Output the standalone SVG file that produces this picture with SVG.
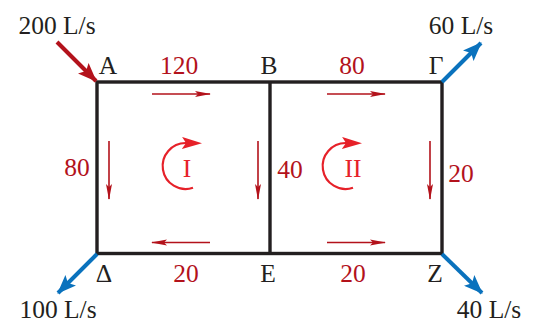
<svg xmlns="http://www.w3.org/2000/svg" width="535" height="323" viewBox="0 0 535 323">
<style>
.t{font-family:"Liberation Serif","Times New Roman",serif;font-size:25.5px;text-anchor:middle}
.k{fill:#231f20}
.r{fill:#b3121b}
.loopt{fill:#e62129}
.frame{fill:none;stroke:#231f20;stroke-width:3.4}
.flow{stroke:#b3121b;stroke-width:1.6;fill:none}
.loop{stroke:#e62129;stroke-width:2.2;fill:none}
.big{stroke-width:4;fill:none}
</style>
<defs>
<marker id="sm" markerUnits="userSpaceOnUse" viewBox="0 0 16 8" refX="15" refY="4" markerWidth="16" markerHeight="8" orient="auto">
<path d="M0,4 L3,4 L0,1 L16,4 L0,7 L3,4 Z" fill="#b3121b"/>
</marker>
<marker id="lp" markerUnits="userSpaceOnUse" viewBox="0 0 20 12" refX="4" refY="6" markerWidth="20" markerHeight="12" orient="auto">
<path d="M0,0 L20,6 L0,12 L4,6 Z" fill="#e62129"/>
</marker>
<marker id="br" markerUnits="userSpaceOnUse" viewBox="0 0 19 15" refX="18" refY="7.5" markerWidth="19" markerHeight="15" orient="auto">
<path d="M0,0 L19,7.5 L0,15 L4,7.5 Z" fill="#b3121b"/>
</marker>
<marker id="bb" markerUnits="userSpaceOnUse" viewBox="0 0 19 15" refX="18" refY="7.5" markerWidth="19" markerHeight="15" orient="auto">
<path d="M0,0 L19,7.5 L0,15 L4,7.5 Z" fill="#0a72bd"/>
</marker>
</defs>
<g id="network">
<rect class="frame" x="97" y="82" width="345" height="171.5"/>
<line class="frame" x1="270" y1="82" x2="270" y2="253.5"/>
</g>
<g id="connectors">
<line class="flow" x1="152" y1="94" x2="210" y2="94" marker-end="url(#sm)"/>
<line class="flow" x1="327" y1="94" x2="385" y2="94" marker-end="url(#sm)"/>
<line class="flow" x1="109" y1="141" x2="109" y2="199" marker-end="url(#sm)"/>
<line class="flow" x1="258" y1="141" x2="258" y2="199" marker-end="url(#sm)"/>
<line class="flow" x1="430" y1="141" x2="430" y2="199" marker-end="url(#sm)"/>
<line class="flow" x1="210" y1="242.5" x2="152" y2="242.5" marker-end="url(#sm)"/>
<line class="flow" x1="327" y1="242.5" x2="385" y2="242.5" marker-end="url(#sm)"/>
<line class="big" stroke="#b3121b" x1="57" y1="42" x2="96" y2="81" marker-end="url(#br)"/>
<line class="big" stroke="#0a72bd" x1="442" y1="82" x2="481" y2="43" marker-end="url(#bb)"/>
<line class="big" stroke="#0a72bd" x1="97" y1="254" x2="58" y2="293" marker-end="url(#bb)"/>
<line class="big" stroke="#0a72bd" x1="442" y1="254" x2="482" y2="293" marker-end="url(#bb)"/>
</g>
<g id="loop-I">
<path class="loop" d="M193,187.8 A23,23 0 1 1 186,143" marker-end="url(#lp)"/>
<text class="t loopt" x="187" y="177">I</text>
</g>
<g id="loop-II">
<path class="loop" d="M353,187.8 A23,23 0 1 1 346,143" marker-end="url(#lp)"/>
<text class="t loopt" x="353" y="177">II</text>
</g>
<g id="labels">
<text class="t k" x="57" y="34">200 L/s</text>
<text class="t k" x="461" y="34">60 L/s</text>
<text class="t k" x="58" y="318">100 L/s</text>
<text class="t k" x="489" y="318">40 L/s</text>
<text class="t k" x="108" y="74">A</text>
<text class="t k" x="269" y="74">B</text>
<text class="t k" x="436" y="74">Γ</text>
<text class="t k" x="104" y="282">Δ</text>
<text class="t k" x="268" y="282">E</text>
<text class="t k" x="435" y="282">Z</text>
<text class="t r" x="179" y="74">120</text>
<text class="t r" x="352" y="74">80</text>
<text class="t r" x="77" y="176">80</text>
<text class="t r" x="290" y="178">40</text>
<text class="t r" x="461" y="182">20</text>
<text class="t r" x="186" y="282">20</text>
<text class="t r" x="353" y="282">20</text>
</g>
</svg>
